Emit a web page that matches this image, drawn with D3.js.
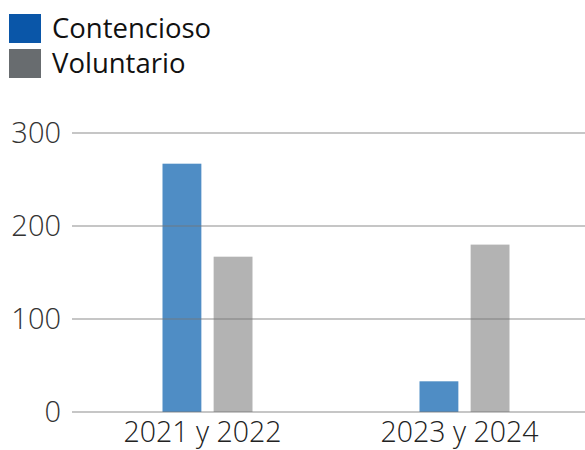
<!DOCTYPE html>
<html lang="es">
<head>
<meta charset="utf-8">
<title>Contencioso y Voluntario</title>
<script src="https://d3js.org/d3.v7.min.js"></script>
<style>
  html, body { margin: 0; padding: 0; background: #fff; }
  svg text { font-family: "Open Sans", "DejaVu Sans", sans-serif; }
</style>
</head>
<body>
<div id="chart"></div>
<script>
// data
const periods = ["2021 y 2022", "2023 y 2024"];
const series = ["Contencioso", "Voluntario"];
const contencioso = [267, 33];
const voluntario = [167, 180];
const yTicks = [0, 100, 200, 300];

const barColors = { Contencioso: "#4f8dc5", Voluntario: "#b3b3b3" };
const legendColors = { Contencioso: "#0a56a8", Voluntario: "#686c6f" };

const W = 585, H = 450;
const svg = d3.select("#chart").append("svg")
    .attr("width", W).attr("height", H);

// legend
const legend = svg.append("g");
series.forEach((s, i) => {
  const g = legend.append("g").attr("transform", `translate(9,${14 + i * 35})`);
  g.append("rect").attr("width", 32).attr("height", 29).attr("fill", legendColors[s]);
  g.append("text").attr("x", 43).attr("y", 24)
      .attr("font-size", 27.5).attr("fill", "#111").text(s);
});

// scales
const y = d3.scaleLinear().domain([0, 300]).range([412, 133]);
const x0 = d3.scaleBand().domain(periods).range([74, 588]);
const x1 = d3.scaleBand().domain(series).range([x0.bandwidth() / 2 - 40, x0.bandwidth() / 2 + 50]).paddingInner(0.24);

const rows = periods.map((p, i) => ({ period: p, Contencioso: contencioso[i], Voluntario: voluntario[i] }));

// bars
svg.append("g").selectAll("g")
  .data(rows).join("g")
    .attr("transform", d => `translate(${x0(d.period)},0)`)
  .selectAll("rect")
  .data(d => series.map(s => ({ key: s, value: d[s] })))
  .join("rect")
    .attr("x", d => x1(d.key))
    .attr("width", x1.bandwidth())
    .attr("y", d => y(d.value))
    .attr("height", d => y(0) - y(d.value))
    .attr("fill", d => barColors[d.key]);

// grid lines on top of bars
svg.append("g").selectAll("line")
  .data(yTicks).join("line")
    .attr("x1", 72).attr("x2", W)
    .attr("y1", d => y(d)).attr("y2", d => y(d))
    .attr("stroke", "#777").attr("stroke-opacity", 0.55).attr("stroke-width", 1.5);

// y tick labels
svg.append("g").selectAll("text")
  .data(yTicks).join("text")
    .attr("x", 61).attr("y", d => y(d))
    .attr("dy", "0.36em")
    .attr("text-anchor", "end")
    .attr("font-size", 29).attr("font-weight", 300)
    .attr("fill", "#333")
    .text(d => d);

// x labels
svg.append("g").selectAll("text")
  .data(periods).join("text")
    .attr("x", d => x0(d) + x0.bandwidth() / 2)
    .attr("y", 442)
    .attr("text-anchor", "middle")
    .attr("font-size", 28.5).attr("font-weight", 300)
    .attr("fill", "#222")
    .text(d => d);
</script>
</body>
</html>
